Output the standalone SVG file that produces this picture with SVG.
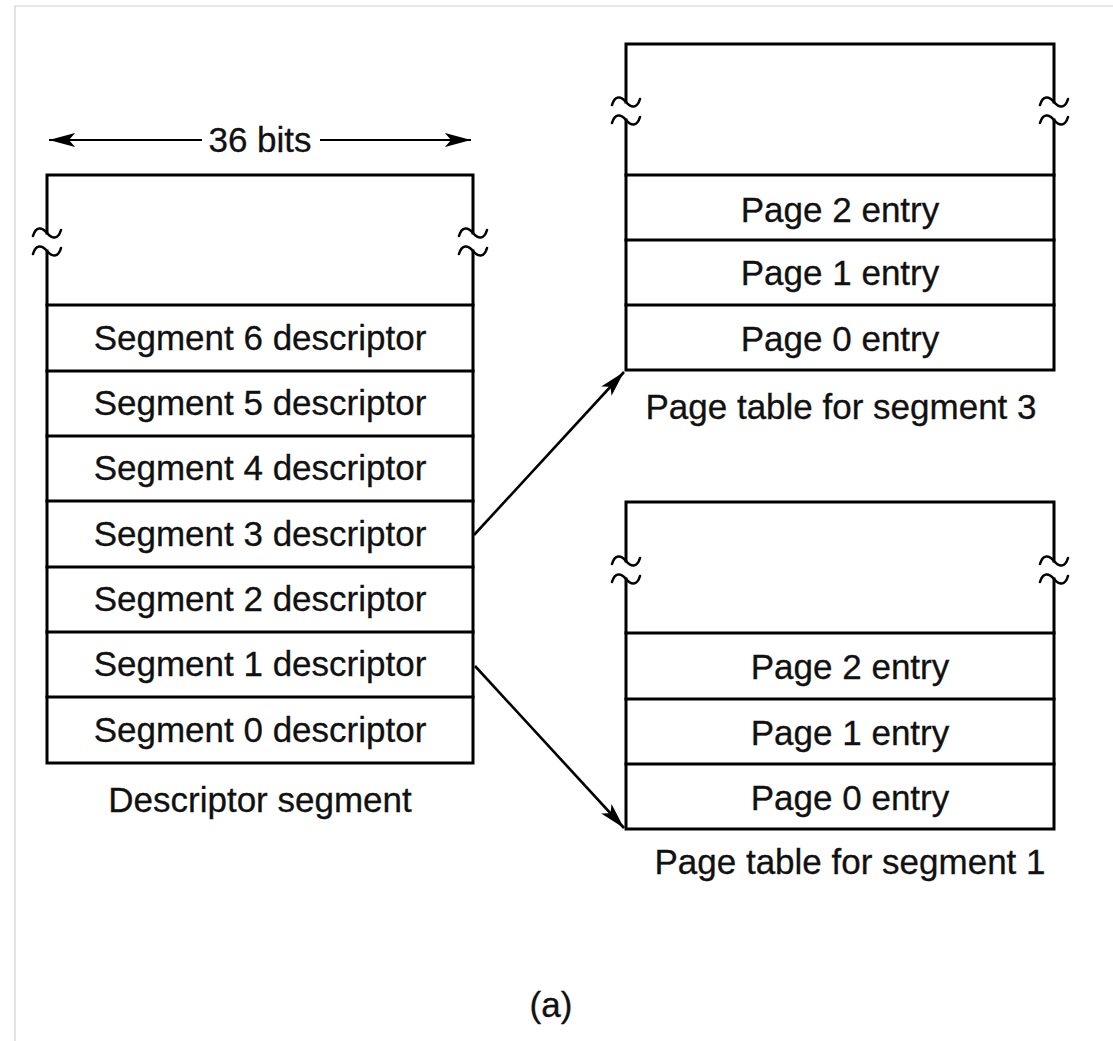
<svg xmlns="http://www.w3.org/2000/svg" width="1113" height="1041" viewBox="0 0 1113 1041">
  <style>
    .box { fill: none; stroke: #000; stroke-width: 3; stroke-linecap: square; }
    .cut { fill: none; stroke: #000; stroke-width: 2.6; stroke-linecap: round; }
    .lbl { font-family: "Liberation Sans", Arial, sans-serif; font-size: 35px; fill: #111; stroke: #111; stroke-width: 0.3; text-anchor: middle; }
    .link { fill: none; stroke: #000; stroke-width: 2.6; }
    .dim { fill: none; stroke: #000; stroke-width: 2; }
  </style>
  <defs>
    <!-- barbed arrowhead, tip at the path end -->
    <marker id="head" markerUnits="userSpaceOnUse" markerWidth="30" markerHeight="20" viewBox="-27 -10 30 20" refX="0" refY="0" orient="auto">
      <path d="M0,0 L-26,-7 L-20,0 L-26,7 Z" fill="#000"/>
    </marker>
    <!-- break mark drawn across a vertical edge -->
    <path id="tilde" d="M-14,3 C-11,-7 -5,-6 0,0 C5,6 11,7 14,-3"/>
  </defs>

  <rect width="1113" height="1041" fill="#fff"/>
  <!-- thin frame -->
  <path d="M15,1041 L15,6 L1113,6" fill="none" stroke="#cfcfcf" stroke-width="1.2"/>

  <!-- width dimension -->
  <g id="width-dim">
    <line class="dim" x1="202" y1="140" x2="49" y2="140" marker-end="url(#head)"/>
    <line class="dim" x1="320" y1="140" x2="471" y2="140" marker-end="url(#head)"/>
    <text class="lbl" x="260" y="152">36 bits</text>
  </g>

  <!-- descriptor segment table -->
  <g id="descriptor-segment">
    <path class="box" d="M47,233 L47,175 L473,175 L473,233"/>
    <path class="box" d="M47,251 L47,763 L473,763 L473,251"/>
    <use href="#tilde" class="cut" x="47" y="233"/>
    <use href="#tilde" class="cut" x="47" y="251"/>
    <use href="#tilde" class="cut" x="473" y="233"/>
    <use href="#tilde" class="cut" x="473" y="251"/>
    <g class="box">
      <line x1="47" y1="305" x2="473" y2="305"/>
      <line x1="47" y1="371" x2="473" y2="371"/>
      <line x1="47" y1="436" x2="473" y2="436"/>
      <line x1="47" y1="501" x2="473" y2="501"/>
      <line x1="47" y1="567" x2="473" y2="567"/>
      <line x1="47" y1="632" x2="473" y2="632"/>
      <line x1="47" y1="697" x2="473" y2="697"/>
    </g>
    <text class="lbl" x="260" y="350">Segment 6 descriptor</text>
    <text class="lbl" x="260" y="415">Segment 5 descriptor</text>
    <text class="lbl" x="260" y="480">Segment 4 descriptor</text>
    <text class="lbl" x="260" y="546">Segment 3 descriptor</text>
    <text class="lbl" x="260" y="611">Segment 2 descriptor</text>
    <text class="lbl" x="260" y="676">Segment 1 descriptor</text>
    <text class="lbl" x="260" y="742">Segment 0 descriptor</text>
    <text class="lbl" x="260" y="812">Descriptor segment</text>
  </g>

  <!-- page table for segment 3 -->
  <g id="page-table-3">
    <path class="box" d="M626,102 L626,44 L1054,44 L1054,102"/>
    <path class="box" d="M626,120 L626,370 L1054,370 L1054,120"/>
    <use href="#tilde" class="cut" x="626" y="102"/>
    <use href="#tilde" class="cut" x="626" y="120"/>
    <use href="#tilde" class="cut" x="1054" y="102"/>
    <use href="#tilde" class="cut" x="1054" y="120"/>
    <g class="box">
      <line x1="626" y1="175" x2="1054" y2="175"/>
      <line x1="626" y1="240" x2="1054" y2="240"/>
      <line x1="626" y1="305" x2="1054" y2="305"/>
    </g>
    <text class="lbl" x="840" y="222">Page 2 entry</text>
    <text class="lbl" x="840" y="285">Page 1 entry</text>
    <text class="lbl" x="840" y="351">Page 0 entry</text>
    <text class="lbl" x="841" y="419">Page table for segment 3</text>
  </g>

  <!-- page table for segment 1 -->
  <g id="page-table-1">
    <path class="box" d="M626,561 L626,502 L1054,502 L1054,561"/>
    <path class="box" d="M626,579 L626,829 L1054,829 L1054,579"/>
    <use href="#tilde" class="cut" x="626" y="561"/>
    <use href="#tilde" class="cut" x="626" y="579"/>
    <use href="#tilde" class="cut" x="1054" y="561"/>
    <use href="#tilde" class="cut" x="1054" y="579"/>
    <g class="box">
      <line x1="626" y1="633" x2="1054" y2="633"/>
      <line x1="626" y1="699" x2="1054" y2="699"/>
      <line x1="626" y1="764" x2="1054" y2="764"/>
    </g>
    <text class="lbl" x="850" y="679">Page 2 entry</text>
    <text class="lbl" x="850" y="745">Page 1 entry</text>
    <text class="lbl" x="850" y="810">Page 0 entry</text>
    <text class="lbl" x="850" y="874">Page table for segment 1</text>
  </g>

  <!-- descriptor to page table links -->
  <g id="connectors">
    <line class="link" x1="474" y1="535" x2="624" y2="372" marker-end="url(#head)"/>
    <line class="link" x1="475" y1="666" x2="624" y2="828" marker-end="url(#head)"/>
  </g>

  <text class="lbl" x="551" y="1017">(a)</text>
</svg>
